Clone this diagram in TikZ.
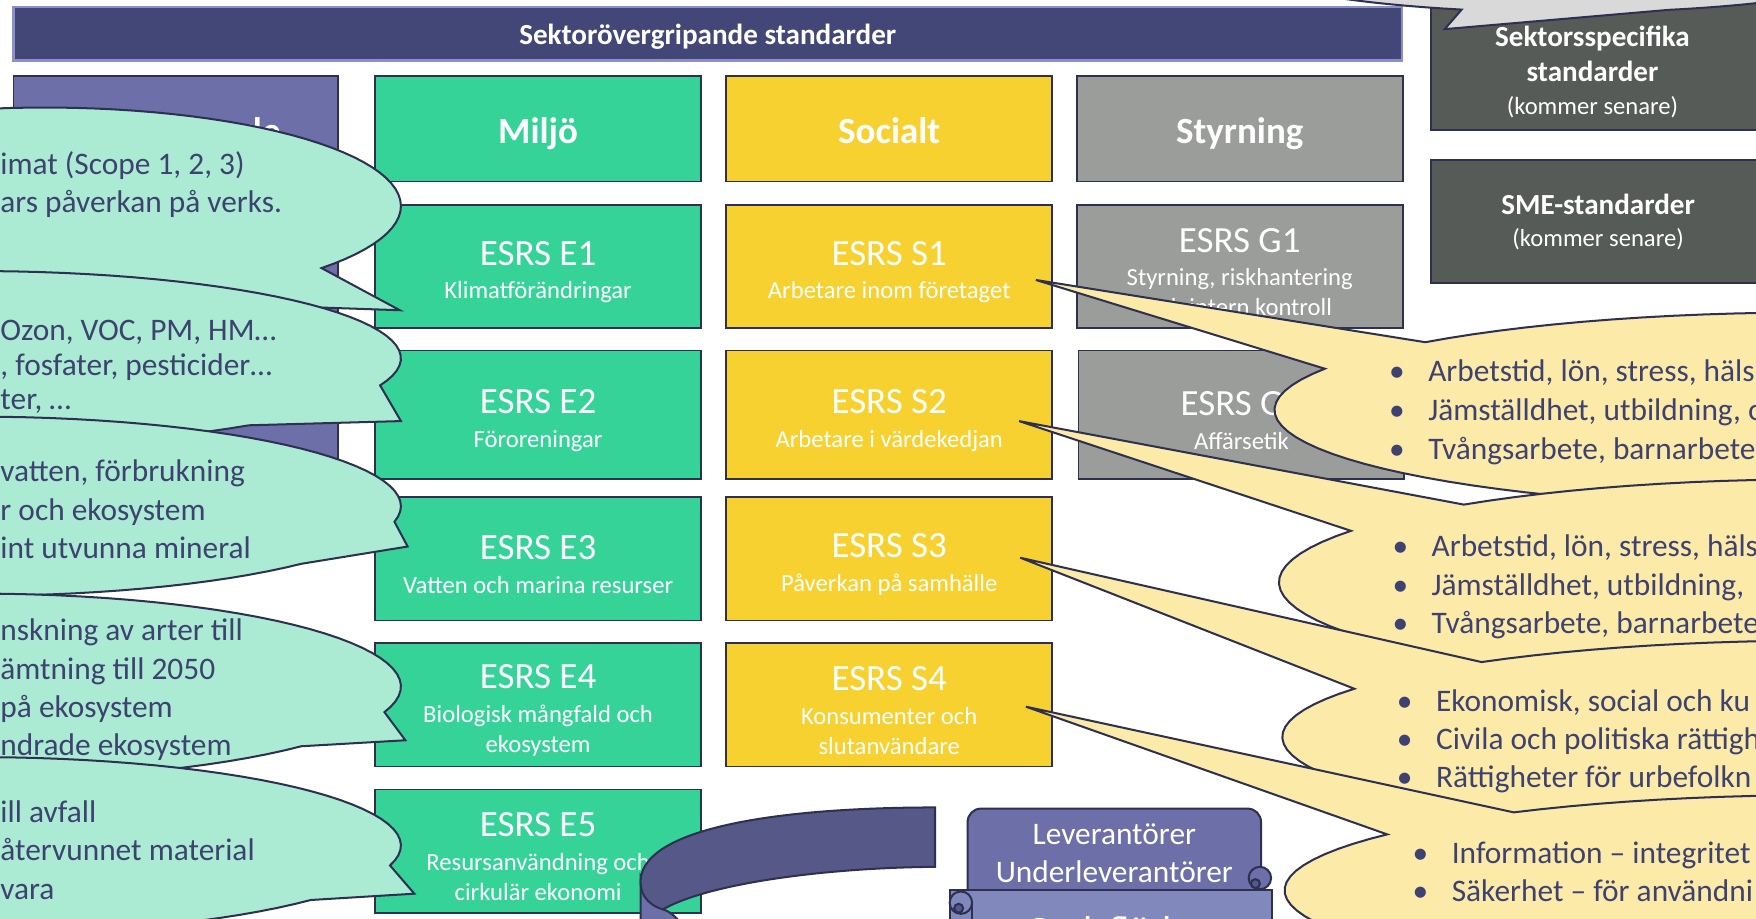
\documentclass[tikz,border=0pt]{standalone}
\usepackage{fontspec}
\setmainfont{Carlito}
\usetikzlibrary{calc}

\definecolor{barnavy}{RGB}{66,71,120}
\definecolor{barrim}{RGB}{140,144,200}
\definecolor{crossblue}{RGB}{108,111,168}
\definecolor{envgreen}{RGB}{54,211,153}
\definecolor{socyellow}{RGB}{247,209,48}
\definecolor{govgray}{RGB}{155,157,154}
\definecolor{sectgray}{RGB}{87,91,87}
\definecolor{edge}{RGB}{45,48,80}
\definecolor{mint}{RGB}{172,235,211}
\definecolor{cream}{RGB}{252,234,169}
\definecolor{silver}{RGB}{217,217,217}
\definecolor{inknavy}{RGB}{62,66,112}
\definecolor{bandpurple}{RGB}{86,89,136}
\definecolor{scrolllight}{RGB}{128,136,188}

\tikzset{
  tilebox/.style={draw=edge, line width=0.8pt, text=white, align=center, inner sep=0pt,
    minimum width=145.5pt, minimum height=55pt, font=\fontsize{11}{13.5}\selectfont},
  headbox/.style={tilebox, minimum height=47pt, text height=13pt, text depth=0pt,
    font=\bfseries\fontsize{16.5}{20}\selectfont},
  envbox/.style={fill=envgreen},
  socbox/.style={fill=socyellow},
  govbox/.style={fill=govgray},
  crossbox/.style={fill=crossblue, minimum width=145pt},
  laterbox/.style={tilebox, fill=sectgray, minimum width=149pt, font=\fontsize{11}{14.5}\selectfont},
  bubble/.style={draw=edge, line width=0.9pt},
  notetext/.style={text=inknavy, anchor=base west, inner sep=0pt, font=\fontsize{14}{17}\selectfont},
}

\newcommand\esrs[2]{{\fontsize{16.5}{16.5}\selectfont\rule{0pt}{15.6pt}ESRS #1}\\[1.5pt]#2}
\newcommand\speech[8]{\filldraw[#1] plot[domain=#6:#7, samples=100]
  ({#2+#4*cos(\x)},{#3+#5*sin(\x)}) -- #8 -- cycle;}
\newcommand\dotitem[1]{\makebox[17.5pt][l]{•}#1}
\newcommand\boldline[1]{{\bfseries\fontsize{13}{16}\selectfont #1}}

\begin{document}
\begin{tikzpicture}[x=0.5pt,y=-0.5pt]
\useasboundingbox (0,0) rectangle (1568,820);
\clip (0,0) rectangle (1568,820);
\fill[white] (0,0) rectangle (1568,820);

% top bar
\node[draw=barrim, line width=1pt, fill=barnavy, text=white, inner sep=0pt,
  minimum width=620pt, minimum height=24pt, text height=9.4pt, text depth=0pt,
  font=\bfseries\fontsize{13}{16}\selectfont]
  (sector) at (632,30) {Sektorövergripande standarder};

% cross-cutting column
\node[headbox, crossbox] (ovr) at (157,115) {Övergripande};
\node[tilebox, crossbox] (esrs1) at (157,238) {};
\node[tilebox, crossbox, minimum height=57.5pt] (esrs2) at (157,370.5) {};

% environment
\node[headbox, envbox] (miljo) at (480.5,115) {Miljö};
\node[tilebox, envbox] (e1) at (480.5,238) {\esrs{E1}{Klimatförändringar}};
\node[tilebox, envbox, minimum height=57.5pt] (e2) at (480.5,370.5) {\esrs{E2}{Föroreningar}};
\node[tilebox, envbox] (e3) at (480.5,499) {\esrs{E3}{Vatten och marina resurser}};
\node[tilebox, envbox] (e4) at (480.5,629.5) {\esrs{E4}{Biologisk mångfald och\\ekosystem}};
\node[tilebox, envbox] (e5) at (480.5,760) {\esrs{E5}{Resursanvändning och\\cirkulär ekonomi}};

% social
\node[headbox, socbox] (socialt) at (794,115) {Socialt};
\node[tilebox, socbox] (s1) at (794,238) {\esrs{S1}{Arbetare inom företaget}};
\node[tilebox, socbox, minimum height=57.5pt] (s2) at (794,370.5) {\esrs{S2}{Arbetare i värdekedjan}};
\node[tilebox, socbox] (s3) at (794,499) {\esrs{S3}{Påverkan på samhälle}};
\node[tilebox, socbox] (s4) at (794,629.5) {\esrs{S4}{Konsumenter och\\slutanvändare}};

% governance
\node[headbox, govbox] (styr) at (1107,115) {Styrning};
\node[tilebox, govbox] (g1) at (1107,238) {\esrs{G1}{Styrning, riskhantering\\och intern kontroll}};
\node[tilebox, govbox, minimum height=57.5pt] (g2) at (1108.5,370.5) {\esrs{G2}{Affärsetik}};

% later standards
\node[laterbox, minimum height=60.5pt] (sect) at (1427,55.5) {};
\node[text=white, align=center, inner sep=0pt, font=\fontsize{11}{14.5}\selectfont]
  (sect-txt) at (1422,64) {\boldline{Sektorsspecifika}\\[1.5pt]\boldline{standarder}\\(kommer senare)};
\node[laterbox] (sme) at (1427,198) {\boldline{SME-standarder}\\(kommer senare)};

% grey bubble from above
\speech{bubble, fill=silver}{1400}{-39}{307}{50}{108}{433}{(1290,26)}

% turning band
\filldraw[bubble, fill=crossblue] (572,782) -- (572,830) -- (612,830)
  .. controls (604,818) and (598,814) .. (592,812) -- cycle;
\filldraw[bubble, fill=bandpurple] (835,721) .. controls (700,721) and (585,738) .. (573,780)
  .. controls (569,797) and (578,808) .. (592,812)
  .. controls (630,790) and (730,775) .. (835,774) -- cycle;

% scrolls
\filldraw[bubble, fill=crossblue, rounded corners=6pt] (864,800) -- (864,722) -- (1126,722) -- (1126,800);
\filldraw[bubble, fill=crossblue] (1125,784) circle (5pt);
\filldraw[bubble, fill=bandpurple] (1121,789) circle (2pt);
\node[text=white, align=center, inner sep=0pt, font=\fontsize{14}{17}\selectfont]
  (lev) at (995,762) {Leverantörer\\Underleverantörer};
\filldraw[bubble, fill=scrolllight] (848,830) -- (848,795) -- (1136,795) -- (1136,830);
\filldraw[bubble, fill=scrolllight] (858,806) circle (5pt);
\draw[bubble] (868,806) -- (868,830);
\filldraw[bubble, fill=bandpurple] (856,811) circle (2pt);
\node[text=white, anchor=base, inner sep=0pt, font=\fontsize{18}{20}\selectfont]
  (gods) at (990,843) {Godsflöde};

% yellow bubbles on the right
\speech{bubble, fill=cream}{1618}{366}{480}{87}{224}{565}{(925,250)}
\foreach \s [count=\i from 0] in {{Arbetstid, lön, stress, häls}, {Jämställdhet, utbildning, o}, {Tvångsarbete, barnarbete}}
  \node[notetext] (r1-\i) at (1240,341+34.5*\i) {\dotitem{\s}};
\speech{bubble, fill=cream}{1622}{520}{480}{92}{229}{570}{(910,376)}
\foreach \s [count=\i from 0] in {{Arbetstid, lön, stress, häls}, {Jämställdhet, utbildning,}, {Tvångsarbete, barnarbete}}
  \node[notetext] (r2-\i) at (1243,497+34.5*\i) {\dotitem{\s}};
\speech{bubble, fill=cream}{1625}{658}{480}{86}{231}{570}{(911,498)}
\foreach \s [count=\i from 0] in {{Ekonomisk, social och ku}, {Civila och politiska rättigh}, {Rättigheter för urbefolkn}}
  \node[notetext] (r3-\i) at (1247,635+34*\i) {\dotitem{\s}};
\speech{bubble, fill=cream}{1627}{795}{480}{85}{235}{576}{(916,631)}
\foreach \s [count=\i from 0] in {{Information – integritet}, {Säkerhet – för användni}}
  \node[notetext] (r4-\i) at (1261,771+34*\i) {\dotitem{\s}};

% green bubbles on the left
\speech{bubble, fill=mint}{40}{184}{318}{88}{75}{399}{(357,277)}
\foreach \s [count=\i from 0] in {{imat (Scope 1, 2, 3)}, {ars påverkan på verks.}}
  \node[notetext] (l1-\i) at (0,156+34*\i) {\s};
\speech{bubble, fill=mint}{-22}{320}{380}{78}{50}{378}{(358,376)}
\foreach \s [count=\i from 0] in {{ Ozon, VOC, PM, HM…}, {, fosfater, pesticider…}, {ter, …}}
  \node[notetext] (l2-\i) at (0,304+31*\i) {\s};
\speech{bubble, fill=mint}{-22}{452}{380}{80}{40}{370}{(364,488)}
\foreach \s [count=\i from 0] in {{vatten, förbrukning}, {r och ekosystem}, {int utvunna mineral}}
  \node[notetext] (l3-\i) at (0,430+34.5*\i) {\s};
\speech{bubble, fill=mint}{-22}{613}{380}{83}{40}{376}{(362,661)}
\foreach \s [count=\i from 0] in {{nskning av arter till}, {ämtning till 2050}, {på ekosystem}, {ndrade ekosystem}}
  \node[notetext] (l4-\i) at (0,572+34.3*\i) {\s};
\speech{bubble, fill=mint}{-22}{755}{380}{79}{38}{373}{(370,798)}
\foreach \s [count=\i from 0] in {{ill avfall}, {återvunnet material}, {vara}}
  \node[notetext] (l5-\i) at (0,734+34.5*\i) {\s};
\end{tikzpicture}
\end{document}
